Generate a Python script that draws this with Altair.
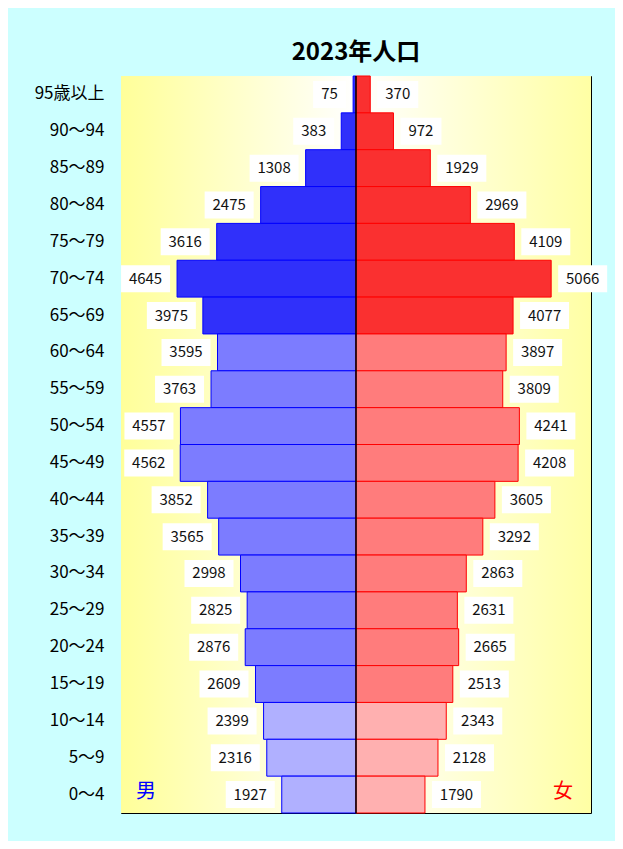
import altair as alt
import pandas as pd

ages = ["95歳以上", "90～94", "85～89", "80～84", "75～79", "70～74", "65～69",
        "60～64", "55～59", "50～54", "45～49", "40～44", "35～39", "30～34",
        "25～29", "20～24", "15～19", "10～14", "5～9", "0～4"]
male = [75, 383, 1308, 2475, 3616, 4645, 3975, 3595, 3763, 4557, 4562, 3852,
        3565, 2998, 2825, 2876, 2609, 2399, 2316, 1927]
female = [370, 972, 1929, 2969, 4109, 5066, 4077, 3897, 3809, 4241, 4208, 3605,
          3292, 2863, 2631, 2665, 2513, 2343, 2128, 1790]
groups = ["65+"] * 7 + ["15-64"] * 10 + ["0-14"] * 3

W, H = 470, 737
DOM = 6100
K = DOM / (W / 2)  # data units per pixel
FONT = "Noto Sans CJK JP"

rows = []
for a, m, f, g in zip(ages, male, female, groups):
    rows.append({"age": a, "sex": "M", "value": m, "signed": -m, "key": "M" + g})
    rows.append({"age": a, "sex": "F", "value": f, "signed": f, "key": "F" + g})
df = pd.DataFrame(rows)

keys = ["M65+", "M15-64", "M0-14", "F65+", "F15-64", "F0-14"]
fills = ["#3030fa", "#7c7cff", "#b0b0ff", "#fa3030", "#ff7c7c", "#ffb0b0"]
strokes = ["#0000ff", "#0000ff", "#0000ff", "#ff0000", "#ff0000", "#ff0000"]

xs = alt.Scale(domain=[-DOM, DOM], nice=False, zero=False)
ys = alt.Scale(domain=ages, paddingInner=0, paddingOuter=0)

base = alt.Chart(df)

bg = alt.Chart(alt.Data(values=[{}])).mark_rect(
    color=alt.LinearGradient(
        gradient="linear",
        stops=[alt.GradientStop(color="#ffff99", offset=0),
               alt.GradientStop(color="#ffffff", offset=0.5),
               alt.GradientStop(color="#ffffa4", offset=1)],
        x1=0, x2=1, y1=0, y2=0)
).encode(x=alt.value(0), x2=alt.value(W), y=alt.value(0), y2=alt.value(H))

bars = base.mark_bar(strokeWidth=1).encode(
    x=alt.X("signed:Q", scale=xs, axis=None),
    x2=alt.datum(0),
    y=alt.Y("age:N", sort=ages, scale=ys,
            axis=alt.Axis(title=None, ticks=False, domain=False, labelFontSize=17,
                          labelPadding=17, labelColor="#000", labelFont=FONT)),
    color=alt.Color("key:N", scale=alt.Scale(domain=keys, range=fills), legend=None),
    stroke=alt.Stroke("key:N", scale=alt.Scale(domain=keys, range=strokes), legend=None),
)

calc = base.transform_calculate(
    sgn="datum.sex == 'M' ? -1 : 1",
    d="length(toString(datum.value))",
).transform_calculate(
    near=f"datum.sgn * (datum.value + 7 * {K})",
    far=f"datum.sgn * (datum.value + (7 + 17 + 8 * datum.d) * {K})",
).transform_calculate(mid="(datum.near + datum.far) / 2")

boxes = calc.mark_bar(color="white", height=27).encode(
    x=alt.X("near:Q", scale=xs), x2="far:Q",
    y=alt.Y("age:N", sort=ages, scale=ys, axis=None),
)
labels = calc.mark_text(fontSize=15, font=FONT, color="#111", baseline="middle").encode(
    x=alt.X("mid:Q", scale=xs),
    y=alt.Y("age:N", sort=ages, scale=ys,
            axis=alt.Axis(orient="right", offset=-W / 2, labels=False, domain=False,
                          ticks=True, tickSize=4, tickColor="black", tickBand="extent",
                          title=None)),
    text="value:Q",
)

center = alt.Chart(alt.Data(values=[{}])).mark_rule(color="black", strokeWidth=1.5).encode(
    x=alt.datum(0, scale=xs)
)

sexes = pd.DataFrame({"t": ["男", "女"], "c": ["#0000ff", "#ff0000"], "px": [25, 442]})
sexlab = alt.Chart(sexes).mark_text(fontSize=20, font=FONT, baseline="middle").encode(
    x=alt.X("px:Q", scale=None), y=alt.value(716), text="t:N",
    color=alt.Color("c:N", scale=None),
)

chart = alt.layer(bg, bars, boxes, labels, center, sexlab).resolve_axis(
    y="independent"
).properties(
    width=W, height=H,
    title=alt.TitleParams("2023年人口", fontSize=24, fontWeight="bold", font=FONT,
                          color="black", offset=10, anchor="middle"),
    autosize=alt.AutoSizeParams(type="none"),
    padding={"left": 113, "top": 68, "right": 24, "bottom": 28},
    background="#ccffff",
).configure_view(stroke="black", strokeWidth=1)

chart.save("out.html", embed_options={"renderer": "svg", "actions": False})
